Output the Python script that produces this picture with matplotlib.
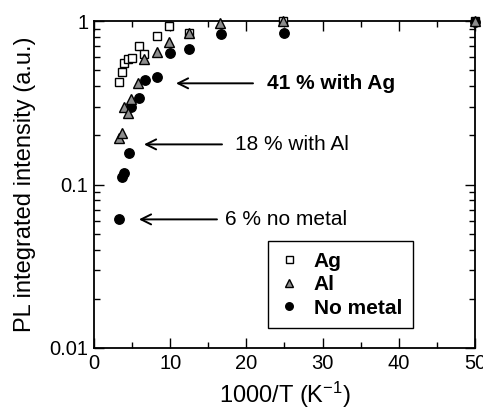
import matplotlib
matplotlib.use("Agg")
import matplotlib.pyplot as plt
from matplotlib.ticker import FixedLocator, MultipleLocator, FuncFormatter, LogLocator

plt.rcParams["font.family"] = ["Liberation Sans", "DejaVu Sans"]
plt.rcParams["mathtext.fontset"] = "custom"
plt.rcParams["mathtext.rm"] = "Liberation Sans"
plt.rcParams["mathtext.it"] = "Liberation Sans:italic"

# data (x = 1000/T, y = normalised PL intensity)
ag_x = [3.28, 3.67, 3.94, 4.42, 4.95, 5.86, 6.6, 8.3, 9.9, 12.5, 24.8, 50]
ag_y = [0.425, 0.49, 0.556, 0.59, 0.594, 0.70, 0.625, 0.81, 0.93, 0.85, 1.0, 1.0]

al_x = [3.3, 3.63, 3.9, 4.5, 4.86, 5.82, 6.6, 8.27, 9.88, 12.47, 16.6, 24.8, 50]
al_y = [0.193, 0.206, 0.299, 0.272, 0.332, 0.42, 0.583, 0.643, 0.748, 0.85, 0.97, 1.0, 1.0]

nm_x = [3.3, 3.67, 3.9, 4.55, 4.9, 5.86, 6.65, 8.3, 9.93, 12.47, 16.67, 24.97, 50]
nm_y = [0.0612, 0.1116, 0.117, 0.155, 0.296, 0.336, 0.436, 0.457, 0.634, 0.674, 0.833, 0.85, 0.98]

# annotations: (text, arrow tip x, arrow tail x, y, text x, bold)
notes = [
    ("41 % with Ag", 10.76, 20.87, 0.416, 22.7, True),
    ("18 % with Al", 6.56, 16.8, 0.176, 18.5, False),
    ("6 % no metal", 5.9, 16.14, 0.0612, 17.2, False),
]

fig = plt.figure(figsize=(4.83, 4.13), dpi=100)
ax = fig.add_axes([0.1946, 0.1574, 0.7888, 0.7916])

ax.plot(ag_x, ag_y, ls="none", marker="s", ms=6.3, mfc="white", mec="black",
        mew=1.0, clip_on=False, label="Ag", zorder=3)
ax.plot(nm_x, nm_y, ls="none", marker="o", ms=6.8, mfc="black", mec="black",
        clip_on=False, label="No metal", zorder=3)
ax.plot(al_x, al_y, ls="none", marker="^", ms=7, mfc="#8c8c8c", mec="black",
        mew=1.0, clip_on=False, label="Al", zorder=4)

ax.set_yscale("log")
ax.set_xlim(0, 50)
ax.set_ylim(0.01, 1)

ax.xaxis.set_major_locator(MultipleLocator(10))
ax.xaxis.set_minor_locator(MultipleLocator(5))
ax.yaxis.set_major_locator(FixedLocator([0.01, 0.1, 1]))
ax.yaxis.set_minor_locator(LogLocator(base=10, subs=range(2, 10)))
ax.yaxis.set_major_formatter(FuncFormatter(lambda v, p: "%g" % v))
ax.yaxis.set_minor_formatter(FuncFormatter(lambda v, p: ""))

ax.tick_params(which="both", direction="in", top=True, right=True,
               width=1.0, labelsize=14.5)
ax.tick_params(which="major", length=7.5, pad=4)
ax.tick_params(which="minor", length=4)
for s in ax.spines.values():
    s.set_linewidth(1.3)

ax.set_xlabel("1000/T (K$^{-1}$)", fontsize=17, labelpad=5)
ax.set_ylabel("PL integrated intensity (a.u.)", fontsize=17, labelpad=10)

for text, tip, tail, y, tx, bold in notes:
    ax.annotate("", xy=(tip, y), xytext=(tail, y),
                arrowprops=dict(arrowstyle="->", lw=1.4, mutation_scale=18,
                                color="black", shrinkA=0, shrinkB=0))
    ax.text(tx, y, text, fontsize=15, va="center", ha="left",
            fontweight="bold" if bold else "normal")

handles, labels = ax.get_legend_handles_labels()
order = [0, 2, 1]
leg = ax.legend([handles[i] for i in order], [labels[i] for i in order],
                loc="upper left", bbox_to_anchor=(0.457, 0.327),
                borderaxespad=0, fancybox=False, edgecolor="black",
                framealpha=1, prop={"weight": "bold", "size": 15},
                handletextpad=0.7, handlelength=1.0, labelspacing=0.22,
                borderpad=0.5, markerscale=0.8)
leg.get_frame().set_linewidth(1.0)

fig.savefig("out.png", dpi=100)
